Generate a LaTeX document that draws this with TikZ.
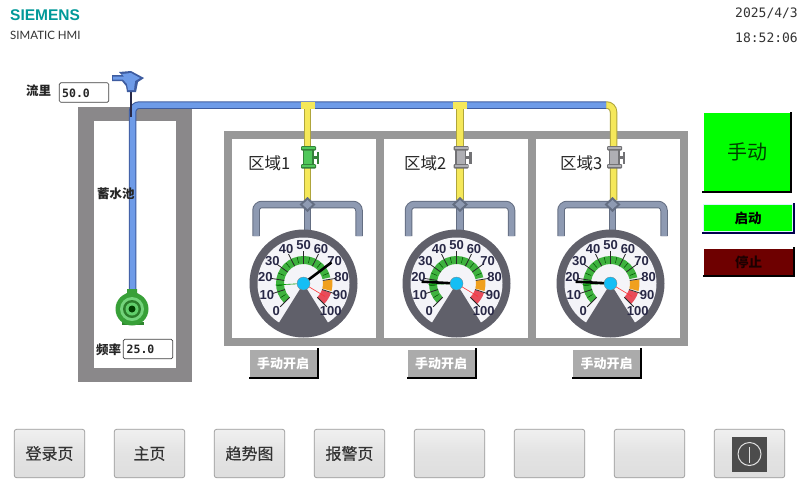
\documentclass[tikz,border=0pt]{standalone}
\usepackage{fontspec}
\setmainfont{Liberation Sans}
\newfontfamily\cjk{Noto Sans CJK SC}
\newfontfamily\cjkm{Noto Sans CJK SC}[FakeBold=0.35]
\newfontfamily\lat{Lato}
\newfontfamily\monof{DejaVu Sans Mono}
\usetikzlibrary{calc}
\definecolor{wallgray}{RGB}{138,136,138}
\definecolor{roomgray}{RGB}{152,152,152}
\definecolor{pipeblue}{RGB}{110,155,232}
\definecolor{pipeedge}{RGB}{62,92,160}
\definecolor{pipeyel}{RGB}{245,232,90}
\definecolor{yeledge}{RGB}{175,165,60}
\definecolor{slate}{RGB}{142,154,178}
\definecolor{slateedge}{RGB}{100,110,130}
\definecolor{dial}{RGB}{96,96,106}
\definecolor{dialface}{RGB}{244,244,248}
\definecolor{gaugegreen}{RGB}{62,178,62}
\definecolor{gaugeorange}{RGB}{240,160,30}
\definecolor{gaugered}{RGB}{232,76,90}
\definecolor{hub}{RGB}{20,190,245}
\definecolor{valvegreen}{RGB}{80,200,90}
\definecolor{valvegray}{RGB}{175,175,180}
\definecolor{teal}{RGB}{0,153,153}
\definecolor{navy}{RGB}{40,40,70}
\definecolor{maroon}{RGB}{110,0,0}
\tikzset{
 x=1pt,y=-1pt,
 lab/.style={font=\cjk\bfseries\fontsize{12.5}{12.5}\selectfont,text=black!85,inner sep=0pt},
 roomlab/.style={anchor=west,inner sep=0pt,font=\cjk\fontsize{16.5}{16.5}\selectfont,text=black!85},
 valtext/.style={anchor=west,inner sep=0pt,font=\monof\bfseries\fontsize{11.5}{11.5}\selectfont,text=black!85},
 clock/.style={anchor=east,inner sep=0pt,font=\monof\fontsize{13}{13}\selectfont,text=black!80},
 valuebox/.style={draw=black!75,rounded corners=1.5pt,fill=white,line width=.7pt,minimum width=49.5pt,minimum height=19.5pt,inner sep=0pt},
 navbtn/.style={draw=black!40,rounded corners=2.5pt,top color=black!6,bottom color=black!13,middle color=black!11,minimum width=70.5pt,minimum height=48.5pt,inner sep=0pt,font=\cjkm\fontsize{16}{16}\selectfont,text=black!80,line width=.7pt},
 manbtn/.style={fill=black!33,minimum width=67pt,minimum height=27pt,inner sep=0pt,text=white,font=\cjk\bfseries\fontsize{13}{13}\selectfont},
}
% #1 cx #2 cy #3 black needle angle #4 thin green angle
\newcommand{\gauge}[4]{
 \begin{scope}[shift={(#1,#2)},y=1pt]
  \fill[dial] (0,0) circle[radius=54];
  \fill[dialface] (0,0) circle[radius=46];
  \fill[gaugegreen] (225:27.5) arc[start angle=225,end angle=13,radius=27.5] -- (13:19.5) arc[start angle=13,end angle=225,radius=19.5] -- cycle;
  \fill[gaugeorange] (8:29) arc[start angle=8,end angle=-15,radius=29] -- (-15:19.5) arc[start angle=-15,end angle=8,radius=19.5] -- cycle;
  \fill[gaugered] (-19:29) arc[start angle=-19,end angle=-45,radius=29] -- (-45:19.5) arc[start angle=-45,end angle=-19,radius=19.5] -- cycle;
  \foreach \v in {0,10,...,100}{
    \pgfmathsetmacro\a{225-2.7*\v}
    \draw[black!85,line width=.8pt] (\a:19.5) -- (\a:33);
  }
  \foreach \v in {5,15,...,75}{
    \pgfmathsetmacro\a{225-2.7*\v}
    \draw[black!70!green,line width=.5pt] (\a:21) -- (\a:27);
  }
  \fill[dial] (0,0) -- (238:53) arc[start angle=238,end angle=302,radius=53] -- cycle;
  \foreach \v in {0,10,...,100}{
    \pgfmathsetmacro\a{225-2.7*\v}
    \node[font=\bfseries\fontsize{13}{13}\selectfont,text=navy,inner sep=0pt] at (\a:38.5) {\v};
  }
  \draw[green!60!black,line width=.6pt] (0,0) -- (#4:28);
  \draw[red!80,line width=.6pt] (0,0) -- (-31:25);
  \draw[black,line width=2.6pt] (0,0) -- (#3:35);
  \fill[hub] (0,0) circle[radius=6.5];
  \draw[black!50,line width=.3pt] (0,0) circle[radius=6.5];
 \end{scope}
}
\newcommand{\manifold}[1]{
 \begin{scope}[shift={(#1,0)}]
  \draw[slateedge,line width=7.5pt,rounded corners=6pt] (-51.5,236) -- (-51.5,204.5) -- (51.5,204.5) -- (51.5,236);
  \draw[slate,line width=5.5pt,rounded corners=6pt] (-51.5,236) -- (-51.5,204.5) -- (51.5,204.5) -- (51.5,236);
  \fill[slateedge] (-3.7,204) rectangle (3.7,236);
  \fill[slate] (-2.7,204) rectangle (2.7,236);
  \fill[slateedge] (-8,204.5) -- (0,197) -- (8,204.5) -- (0,212) -- cycle;
  \fill[slate] (-5,204.5) -- (0,200) -- (5,204.5) -- (0,209) -- cycle;
 \end{scope}
}
\newcommand{\valve}[2]{
 \begin{scope}[shift={(#1,0)}]
  \fill[#2!65!black] (-5,148) rectangle (6,166);
  \fill[#2] (-3.5,148) rectangle (4.5,166);
  \fill[#2!65!black] (6,155.5) rectangle (10,158.5);
  \fill[#2!65!black] (9,152) rectangle (11.5,164);
  \fill[#2!65!black,rounded corners=1pt] (-6.5,146) rectangle (8.5,150.5);
  \fill[#2!65!black,rounded corners=1pt] (-6.5,164) rectangle (8.5,168.5);
  \fill[#2] (-5.5,147) rectangle (7.5,149);
  \fill[#2] (-5.5,165) rectangle (7.5,167);
 \end{scope}
}
\begin{document}
\begin{tikzpicture}
\useasboundingbox (0,0) rectangle (800,480);
\fill[white] (0,0) rectangle (800,480);
% header
\node[anchor=west,inner sep=0pt,font=\bfseries\fontsize{15.5}{15.5}\selectfont,text=teal] (siemens) at (10,15) {SIEMENS};
\node[anchor=west,inner sep=0pt,font=\lat\fontsize{11.5}{11.5}\selectfont,text=black!80] (hmi) at (10,35) {SIMATIC HMI};
\node[clock] (date) at (798,13) {2025/4/3};
\node[clock] (time) at (798,38) {18:52:06};
% tank
\fill[wallgray] (78,107) rectangle (192,382);
\fill[white] (94,121) rectangle (176,368);
% rooms
\fill[roomgray] (224,131) rectangle (688,346);
\fill[white] (232,139) rectangle (376,338);
\fill[white] (384,139) rectangle (528,338);
\fill[white] (536,139) rectangle (680,338);
% yellow drops
\foreach \x in {307.5,460}{
 \draw[yeledge,line width=7.5pt] (\x,105) -- (\x,200);
 \draw[pipeyel,line width=5.5pt] (\x,105) -- (\x,200);
}
\draw[yeledge,line width=7.5pt,rounded corners=7pt] (606,105) -- (613.5,105) -- (613.5,200);
\draw[pipeyel,line width=5.5pt,rounded corners=7pt] (606,105) -- (613.5,105) -- (613.5,200);
% blue pipe
\draw[pipeedge,line width=7.5pt,rounded corners=7pt] (132.5,292) -- (132.5,105) -- (606,105);
\draw[pipeblue,line width=5.5pt,rounded corners=7pt] (132.5,292) -- (132.5,105) -- (606,105);
\foreach \x in {307.5,460}{\fill[pipeyel] (\x-7,102) rectangle (\x+7,108.5);\fill[pipeyel] (\x-2.7,108) rectangle (\x+2.7,112);}
% sensor
\draw[navy,line width=1.6pt] (131,90) -- (131,117);
\fill[pipeedge] (112,75) -- (122,75) -- (119,72) -- (131,71) -- (144,78) -- (138,82) -- (136,92) -- (127,92) -- (126,86) -- (122,81) -- (112,81) -- cycle;
\fill[pipeblue] (113,76.5) -- (124,76.5) -- (122,74) -- (131,73) -- (140,78) -- (135,81) -- (134,90) -- (128,90) -- (127,84) -- (123,79.5) -- (113,79.5) -- cycle;
% pump
\fill[gaugegreen!75!black] (122,322) rectangle (144,325);
\fill[gaugegreen!90!black] (127,289) -- (137,289) -- (137,293) -- (141,296) -- (123,296) -- (127,293) -- cycle;
\fill[gaugegreen!90!black] (132,309) circle[radius=16.5];
\fill[valvegreen!80!white] (132,309) circle[radius=12];
\fill[gaugegreen!70!black] (132,309) circle[radius=9];
\fill[valvegreen!90!white] (132,309) circle[radius=6.5];
\fill[green!25!black] (132,309) circle[radius=3.5];
% labels / values
\node[lab,anchor=west] (flowlab) at (26,91) {流里};
\node[valuebox] (flowbox) at (84,92.5) {};
\node[valtext] (flowval) at (62,93) {50.0};
\node[lab,anchor=west] (tanklab) at (97,194) {蓄水池};
\node[lab,anchor=west] (freqlab) at (96,350) {频率};
\node[valuebox] (freqbox) at (148,349) {};
\node[valtext] (freqval) at (126.5,349) {25.0};
% room labels
\node[roomlab] (r1) at (248,163) {区域1};
\node[roomlab] (r2) at (404,163) {区域2};
\node[roomlab] (r3) at (560,163) {区域3};
\valve{307.5}{valvegreen}
\valve{460}{valvegray}
\valve{613.5}{valvegray}
\manifold{307.5}
\manifold{460}
\manifold{612.5}
\gauge{303.5}{283.5}{37}{183}
\gauge{456.5}{283.5}{177}{182}
\gauge{610.5}{283.5}{177}{182}
% manual buttons
\foreach \x/\n in {283/a,441/b,606.5/c}{
 \fill[black] (\x-34.5,377) rectangle (\x+35.5,379);
 \fill[black] (\x+33.5,348) rectangle (\x+35.5,379);
 \node[manbtn] (man\n) at (\x,363.5) {手动开启};
}
% right buttons
\fill[black] (702,191) rectangle (792,193);
\fill[black] (790,112) rectangle (792,193);
\node[fill=green,minimum width=86.5pt,minimum height=78pt,inner sep=0pt,font=\cjk\fontsize{20}{20}\selectfont,text=black!75!green] (manual) at (747,152) {手动};
\fill[black!70!blue] (702,232) rectangle (795,234);
\fill[black!70!blue] (793,203) rectangle (795,234);
\node[fill=green,draw=cyan!15,line width=.8pt,minimum width=89.5pt,minimum height=27.5pt,inner sep=0pt,font=\cjk\bfseries\fontsize{13.5}{13.5}\selectfont,text=black] (start) at (748,218) {启动};
\fill[black] (703,275) rectangle (795,277);
\fill[black] (793,247) rectangle (795,277);
\node[fill=maroon,minimum width=89pt,minimum height=26pt,inner sep=0pt,font=\cjk\bfseries\fontsize{13.5}{13.5}\selectfont,text=black!75!maroon] (stop) at (748.5,262) {停止};
% nav
\node[navbtn] (n1) at (49.5,453.5) {登录页};
\node[navbtn] (n2) at (149.5,453.5) {主页};
\node[navbtn] (n3) at (249.5,453.5) {趋势图};
\node[navbtn] (n4) at (349.5,453.5) {报警页};
\node[navbtn] (n5) at (449.5,453.5) {};
\node[navbtn] (n6) at (549.5,453.5) {};
\node[navbtn] (n7) at (649.5,453.5) {};
\node[navbtn] (n8) at (749.5,453.5) {};
\fill[black!70] (732,437) rectangle (767,472);
\draw[black!12,line width=1pt] (749.5,454) circle[radius=11.5];
\draw[black!12,line width=1pt] (749.5,447) -- (749.5,463);
\end{tikzpicture}
\end{document}
